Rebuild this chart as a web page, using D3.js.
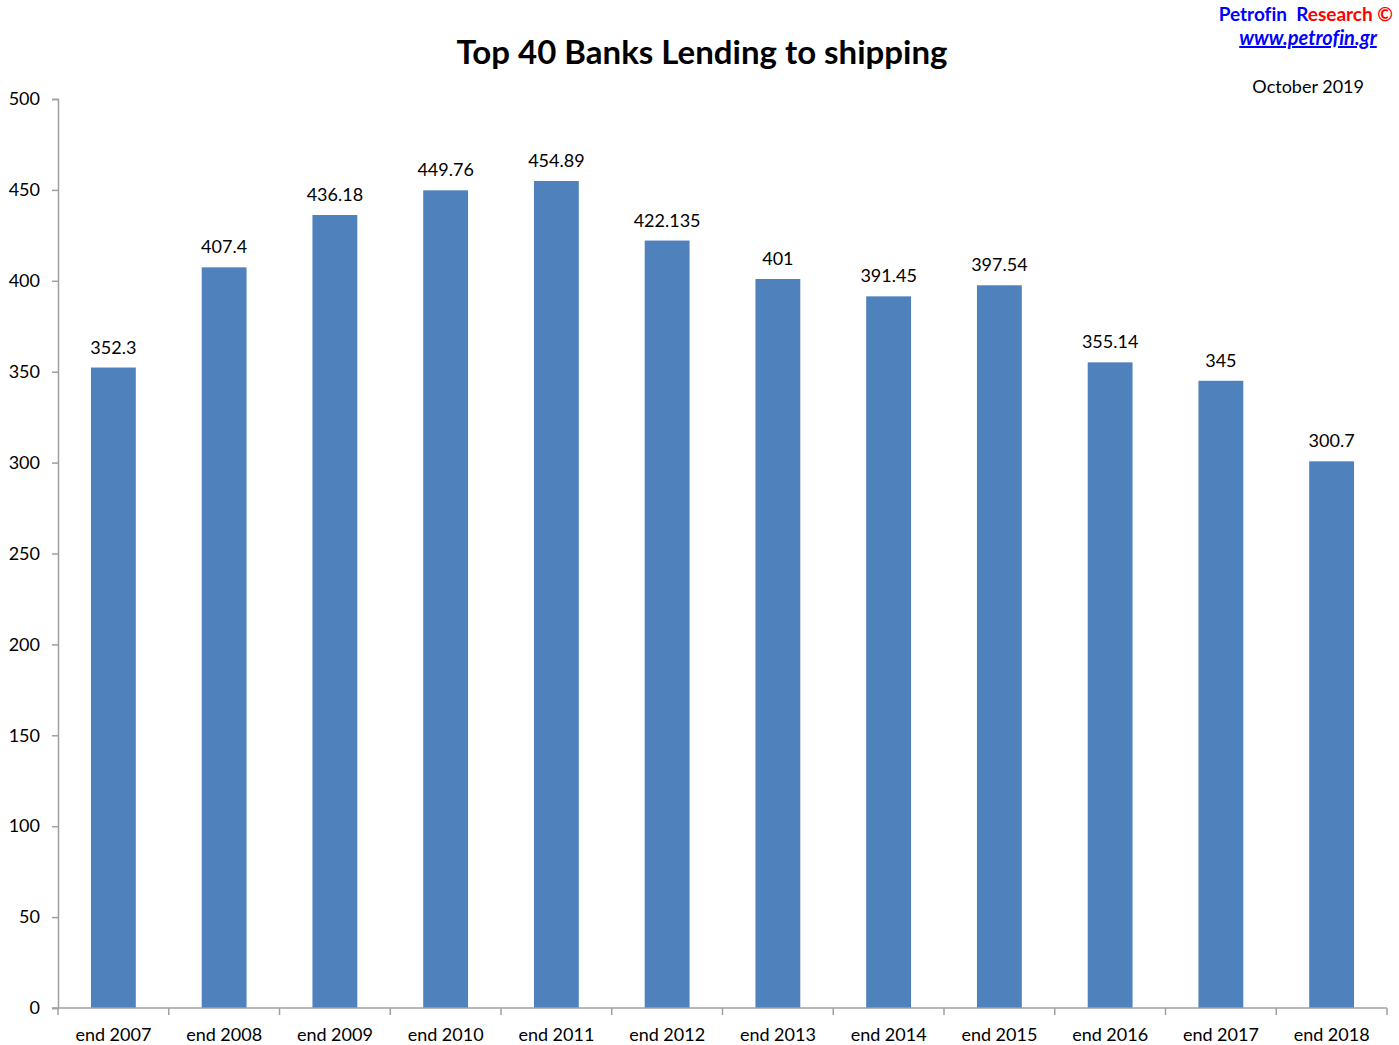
<!DOCTYPE html>
<html>
<head>
<meta charset="utf-8">
<script src="https://cdn.jsdelivr.net/npm/d3@7"></script>
<style>
  body { margin: 0; background: #fff; }
  text { font-family: Lato, "Noto Sans", sans-serif; fill: #000; font-variant-ligatures: none; }
</style>
</head>
<body>
<div id="chart"></div>
<script>
// data
const categories = ["end 2007", "end 2008", "end 2009", "end 2010", "end 2011", "end 2012",
    "end 2013", "end 2014", "end 2015", "end 2016", "end 2017", "end 2018"];
const values = [352.3, 407.4, 436.18, 449.76, 454.89, 422.135, 401, 391.45, 397.54, 355.14, 345, 300.7];
const valueLabels = ["352.3", "407.4", "436.18", "449.76", "454.89", "422.135", "401", "391.45", "397.54", "355.14", "345", "300.7"];
const yTicks = [0, 50, 100, 150, 200, 250, 300, 350, 400, 450, 500];

const width = 1399;
const height = 1045;
const margins = { top: 99, right: 12, bottom: 37, left: 58 };
const axisColor = "#a0a0a0";
const barColor = "#4F81BD";

const svg = d3.select("#chart")
    .append("svg")
    .attr("width", width)
    .attr("height", height);

// scales
const x = d3.scaleBand()
    .domain(categories)
    .range([margins.left, width - margins.right])
    .padding(0);

const y = d3.scaleLinear()
    .domain([0, 500])
    .range([height - margins.bottom, margins.top]);

const barW = x.bandwidth() * 0.405;

// bars
svg.append("g").selectAll("rect")
    .data(values)
    .enter()
    .append("rect")
    .attr("x", (d, i) => x(categories[i]) + (x.bandwidth() - barW) / 2)
    .attr("y", d => y(d))
    .attr("width", barW)
    .attr("height", d => y(0) - y(d))
    .attr("fill", barColor);

// value labels
svg.append("g").selectAll("text")
    .data(values)
    .enter()
    .append("text")
    .attr("x", (d, i) => x(categories[i]) + x.bandwidth() / 2)
    .attr("y", d => y(d) - 14)
    .attr("text-anchor", "middle")
    .style("font-size", "18px")
    .text((d, i) => valueLabels[i]);

// y axis
const yAxis = svg.append("g")
    .attr("transform", `translate(${margins.left}, 0)`)
    .call(d3.axisLeft(y).tickValues(yTicks).tickSize(6).tickPadding(12).tickFormat(d3.format("d")));
yAxis.select(".domain").attr("stroke", axisColor).attr("stroke-width", 1.5);
yAxis.selectAll(".tick line").attr("stroke", axisColor).attr("stroke-width", 1.5);
yAxis.selectAll(".tick text").style("font-size", "18px").style("font-family", "Lato, sans-serif").attr("fill", "#000");

// x axis: ticks sit between categories
const xAxis = svg.append("g")
    .attr("transform", `translate(0, ${y(0)})`);
xAxis.append("line")
    .attr("x1", margins.left - 6)
    .attr("x2", width - margins.right)
    .attr("stroke", axisColor)
    .attr("stroke-width", 1.5);
const boundaries = categories.map(c => x(c)).concat([x(categories[categories.length - 1]) + x.bandwidth()]);
xAxis.selectAll(".xtick")
    .data(boundaries)
    .enter()
    .append("line")
    .attr("x1", d => d)
    .attr("x2", d => d)
    .attr("y1", 0)
    .attr("y2", 7)
    .attr("stroke", axisColor)
    .attr("stroke-width", 1.5);
xAxis.selectAll(".xlabel")
    .data(categories)
    .enter()
    .append("text")
    .attr("x", d => x(d) + x.bandwidth() / 2)
    .attr("y", 33)
    .attr("text-anchor", "middle")
    .style("font-size", "18px")
    .text(d => d);

// title
svg.append("text")
    .attr("x", 702)
    .attr("y", 64)
    .attr("text-anchor", "middle")
    .style("font-size", "33px")
    .style("font-weight", "bold")
    .text("Top 40 Banks Lending to shipping");

// source block top right
const src = svg.append("text")
    .attr("x", 1393)
    .attr("y", 21)
    .attr("text-anchor", "end")
    .style("font-size", "19px")
    .style("font-weight", "bold")
    .style("white-space", "pre");
src.append("tspan").attr("fill", "#0000ff").text("Petrofin  R");
src.append("tspan").attr("fill", "#ff0000").text("esearch ©");

svg.append("text")
    .attr("x", 1308)
    .attr("y", 45)
    .attr("text-anchor", "middle")
    .style("font-size", "20px")
    .style("font-weight", "bold")
    .style("font-style", "italic")
    .style("text-decoration", "underline")
    .style("color", "#0000ff")
    .style("fill", "#0000ff")
    .text("www.petrofin.gr");

svg.append("text")
    .attr("x", 1364)
    .attr("y", 93)
    .attr("text-anchor", "end")
    .style("font-size", "18px")
    .text("October 2019");
</script>
</body>
</html>
